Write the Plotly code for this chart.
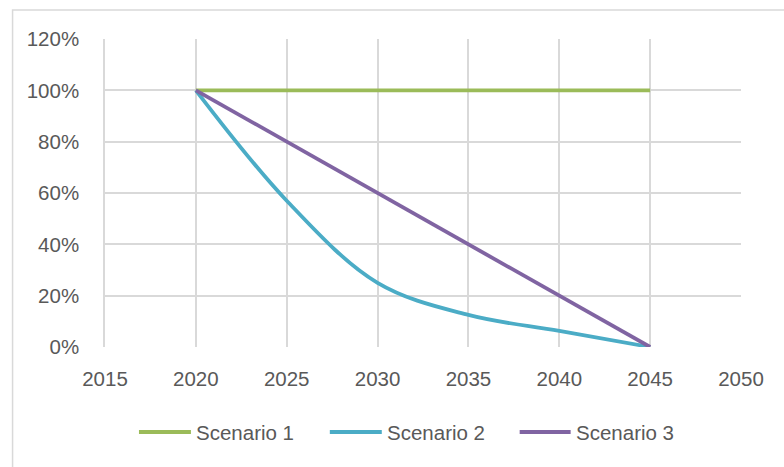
import plotly.graph_objects as go

years = [2020, 2025, 2030, 2035, 2040, 2045]
scenario1 = [1.0, 1.0, 1.0, 1.0, 1.0, 1.0]
scenario2 = [1.0, 0.57, 0.25, 0.125, 0.0625, 0.0]
scenario3 = [1.0, 0.8, 0.6, 0.4, 0.2, 0.0]
names = ["Scenario 1", "Scenario 2", "Scenario 3"]
colors = ["#9BBB59", "#4BACC6", "#8064A2"]
x_ticks = [2015, 2020, 2025, 2030, 2035, 2040, 2045, 2050]
y_ticks = [0, 0.2, 0.4, 0.6, 0.8, 1.0, 1.2]

W, H = 784, 467
L, R, T, B = 105, 42.5, 39, 120
pw, ph = W - L - R, H - T - B

def px(p):
    return (p - L) / pw

def py(p):
    return (H - B - p) / ph

FONT = "Liberation Sans"
TXT = "#595959"
GRID = "#D9D9D9"
FS = 20.5

fig = go.Figure()
series = [scenario1, scenario2, scenario3]
shapes_ = ["linear", "spline", "linear"]
for n, s, c, sh in zip(names, series, colors, shapes_):
    fig.add_trace(go.Scatter(x=years, y=s, name=n, mode="lines",
                             line=dict(color=c, width=3.8, shape=sh, smoothing=1.0),
                             hoverinfo="skip", showlegend=False))

shapes = [dict(type="rect", xref="paper", yref="paper",
               x0=px(12.5), x1=px(800), y0=py(10), y1=py(480),
               line=dict(color=GRID, width=1.5), fillcolor="rgba(0,0,0,0)", layer="below")]
annotations = []
leg = [(139, 191, 194), (330, 382, 385), (520, 571, 574)]
for (a, b, t), n, c in zip(leg, names, colors):
    shapes.append(dict(type="line", xref="paper", yref="paper",
                       x0=px(a), x1=px(b), y0=py(432), y1=py(432),
                       line=dict(color=c, width=3.8)))
    annotations.append(dict(text=n, xref="paper", yref="paper", x=px(t), y=py(432),
                            xanchor="left", yanchor="middle", showarrow=False,
                            font=dict(family=FONT, size=FS, color=TXT)))

fig.update_layout(
    width=W, height=H,
    margin=dict(l=L, r=R, t=T, b=B),
    paper_bgcolor="white", plot_bgcolor="white",
    shapes=shapes, annotations=annotations,
    xaxis=dict(range=[2015, 2050], tickvals=x_ticks, ticktext=[str(v) for v in x_ticks],
               showgrid=True, gridcolor=GRID, gridwidth=1.5, zeroline=False,
               showline=False, ticks="outside", ticklen=13, tickcolor="rgba(0,0,0,0)",
               tickfont=dict(family=FONT, size=FS, color=TXT), fixedrange=True),
    yaxis=dict(range=[0, 1.2], tickvals=y_ticks, tickformat=".0%",
               showgrid=True, gridcolor=GRID, gridwidth=1.5, zeroline=False,
               showline=True, linecolor=GRID, linewidth=1.5, mirror=False,
               ticks="outside", ticklen=20, tickcolor="rgba(0,0,0,0)",
               tickfont=dict(family=FONT, size=FS, color=TXT), fixedrange=True),
)
fig.write_html("out.html")
